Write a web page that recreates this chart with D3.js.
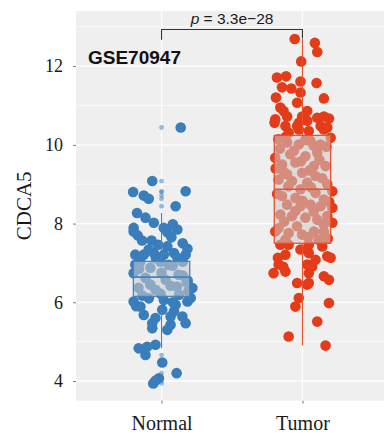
<!DOCTYPE html>
<html>
<head>
<meta charset="utf-8">
<script src="https://cdn.jsdelivr.net/npm/d3@7"></script>
<style>
  html, body { margin: 0; padding: 0; background: #ffffff; }
  svg { display: block; }
</style>
</head>
<body>
<div id="chart"></div>
<script>
// CDCA5 expression, GSE70947: normal vs tumor samples
const categories = ["Normal", "Tumor"];
const datasetLabel = "GSE70947";
const pValueText = "3.3e\u221228";
const yTicks = [4, 6, 8, 10, 12];
const yMinorTicks = [5, 7, 9, 11, 13];

// expression values and horizontal jitter (in category units) per sample
const normalValues = [10.44, 9.08, 8.80, 8.71, 8.63, 8.82, 8.44, 8.27, 8.15, 8.02,
  7.89, 7.80, 7.89, 7.78, 7.85, 7.57, 7.57, 7.46, 7.42, 7.36,
  7.21, 7.21, 7.25, 7.21, 7.25, 7.21, 7.34, 7.13, 6.74, 6.36,
  6.11, 6.02, 6.02, 5.89, 5.68, 5.47, 5.34, 5.81, 6.06, 5.30,
  5.43, 5.77, 5.94, 5.64, 5.47, 6.19, 4.83, 4.87, 4.92, 4.66,
  4.47, 4.20, 4.07, 4.01, 3.94, 6.96, 7.03, 6.88, 7.03, 6.93,
  7.03, 6.62, 6.57, 6.70, 6.37, 6.32, 6.42, 6.50, 6.17, 6.22,
  6.55, 5.60, 5.64, 6.85, 6.75, 6.68, 6.45, 6.40, 6.28, 6.95,
  7.12, 7.65, 7.70, 7.50, 7.98, 6.10, 6.00, 5.90];
const normalJitter = [0.136, -0.066, -0.202, -0.126, -0.091, 0.171, 0.100, -0.174, -0.114, -0.055,
  -0.198, -0.198, 0.016, 0.041, 0.112, -0.138, -0.071, -0.024, 0.041, 0.184,
  -0.186, -0.126, -0.055, 0.016, 0.088, 0.171, -0.091, 0.112, -0.198, 0.219,
  0.207, 0.184, -0.198, -0.150, -0.126, -0.066, -0.066, 0.005, 0.016, 0.041,
  0.064, 0.088, 0.100, 0.148, 0.171, 0.124, -0.162, -0.102, -0.043, -0.114,
  0.005, 0.107, -0.019, -0.043, -0.059, -0.186, -0.150, -0.079, -0.007, 0.079,
  0.150, -0.114, 0.029, 0.121, -0.164, -0.043, 0.064, 0.179, -0.136, -0.007,
  0.186, -0.043, 0.064, -0.160, 0.000, 0.150, -0.080, 0.110, 0.190, 0.050,
  -0.040, 0.070, -0.170, 0.150, 0.080, -0.090, 0.080, -0.180];

const tumorValues = [12.69, 12.59, 12.36, 12.12, 11.71, 11.74, 11.46, 11.43, 11.61, 11.33,
  11.57, 11.20, 11.07, 11.18, 10.95, 10.86, 10.86, 10.65, 10.72, 10.72,
  10.56, 10.69, 10.72, 10.67, 10.56, 10.48, 10.61, 10.48, 10.44, 10.35,
  10.31, 10.39, 10.39, 10.48, 10.18, 10.06, 10.01, 10.10, 9.80, 9.76,
  9.71, 9.67, 9.50, 9.55, 9.46, 9.46, 9.25, 9.29, 9.21, 9.08,
  9.12, 9.04, 9.00, 8.82, 8.70, 8.65, 8.78, 8.61, 8.48, 8.44,
  8.48, 8.44, 8.40, 8.23, 8.19, 8.15, 8.10, 8.19, 8.02, 7.80,
  7.76, 7.72, 7.80, 7.80, 7.93, 10.14, 10.01, 8.87, 7.59, 7.59,
  7.46, 7.46, 7.46, 7.42, 7.21, 7.25, 7.17, 7.08, 6.96, 6.74,
  6.78, 6.96, 6.74, 6.66, 6.57, 6.49, 6.49, 6.11, 5.89, 5.98,
  5.51, 5.13, 4.90, 6.91, 6.90, 6.45, 7.13, 7.13, 7.34, 10.20,
  10.12, 9.95, 9.90, 9.85, 9.62, 9.58, 9.40, 9.35, 9.15, 8.95,
  8.92, 8.75, 8.58, 8.55, 8.32, 8.30, 8.05, 7.98, 7.88, 7.65,
  7.62, 9.98, 9.30];
const tumorJitter = [-0.055, 0.088, 0.105, -0.009, -0.181, -0.116, -0.145, -0.079, -0.014, -0.014,
  0.100, -0.188, -0.038, 0.152, -0.157, -0.134, 0.034, -0.193, -0.109, -0.002,
  -0.026, 0.105, 0.152, 0.188, -0.198, -0.121, 0.034, 0.129, 0.176, 0.045,
  -0.098, -0.026, 0.152, -0.038, 0.200, -0.109, -0.026, 0.057, 0.105, -0.086,
  0.021, -0.193, -0.145, -0.050, 0.081, 0.164, -0.109, -0.002, 0.093, -0.074,
  -0.169, 0.034, 0.176, 0.212, -0.145, -0.050, 0.093, 0.152, -0.109, -0.014,
  0.057, 0.129, 0.212, -0.157, -0.074, 0.021, 0.105, 0.176, 0.212, -0.193,
  -0.098, -0.002, 0.081, 0.152, -0.038, -0.171, 0.129, -0.014, -0.121, 0.114,
  -0.157, -0.098, 0.045, 0.141, -0.121, 0.045, 0.176, 0.093, -0.169, -0.205,
  -0.121, 0.034, 0.045, 0.152, 0.188, -0.038, 0.045, -0.026, -0.050, 0.188,
  0.105, -0.098, 0.164, 0.069, -0.136, 0.034, 0.200, -0.174, -0.014, -0.120,
  0.020, 0.170, -0.160, -0.060, 0.120, -0.010, -0.190, 0.050, 0.140, -0.100,
  0.060, -0.180, 0.000, 0.190, -0.050, 0.080, -0.130, 0.150, -0.170, 0.040,
  0.180, 0.080, -0.130];

// box summaries (lower hinge, median, upper hinge)
const lowerHinges = [6.15, 7.50];
const medians = [6.64, 8.87];
const upperHinges = [7.04, 10.24];

const colors = ["#3a7dbb", "#e43b19"];
const boxLineColors = ["#4683bf", "#e8502e"];

const W = 384, H = 438;
const panel = { left: 76, top: 11, right: 384, bottom: 400.7 };

const svg = d3.select("#chart").append("svg")
  .attr("width", W).attr("height", H);

const x = d3.scaleLinear().domain([0.4, 2.6]).range([77, 387]);
const y = d3.scaleLinear().domain([3.5, 13.4]).range([panel.bottom, panel.top]);

svg.append("defs").append("clipPath").attr("id", "panel-clip")
  .append("rect")
  .attr("x", panel.left).attr("y", panel.top)
  .attr("width", panel.right - panel.left).attr("height", panel.bottom - panel.top);

// panel background and grid
svg.append("rect")
  .attr("x", panel.left).attr("y", panel.top)
  .attr("width", panel.right - panel.left).attr("height", panel.bottom - panel.top)
  .attr("fill", "#efefef");

const grid = svg.append("g").attr("clip-path", "url(#panel-clip)");
grid.selectAll("line.minor").data(yMinorTicks).join("line")
  .attr("class", "minor")
  .attr("x1", panel.left).attr("x2", panel.right)
  .attr("y1", d => y(d)).attr("y2", d => y(d))
  .attr("stroke", "#ffffff").attr("stroke-width", 0.7);
grid.selectAll("line.major").data(yTicks).join("line")
  .attr("class", "major")
  .attr("x1", panel.left).attr("x2", panel.right)
  .attr("y1", d => y(d)).attr("y2", d => y(d))
  .attr("stroke", "#ffffff").attr("stroke-width", 1.3);
grid.selectAll("line.vmajor").data(categories).join("line")
  .attr("class", "vmajor")
  .attr("x1", (d, i) => x(i + 1)).attr("x2", (d, i) => x(i + 1))
  .attr("y1", panel.top).attr("y2", panel.bottom)
  .attr("stroke", "#ffffff").attr("stroke-width", 1.3);

// jittered sample points
const groups = [
  { values: normalValues, jitter: normalJitter },
  { values: tumorValues, jitter: tumorJitter }
];

const plot = svg.append("g").attr("clip-path", "url(#panel-clip)");

groups.forEach((g, i) => {
  plot.append("g").selectAll("circle").data(g.values).join("circle")
    .attr("cx", (d, j) => x(i + 1 + g.jitter[j]))
    .attr("cy", d => y(d))
    .attr("r", 5.3)
    .attr("fill", colors[i]);
});

// box plots drawn over the points
const halfBox = 0.2;
groups.forEach((g, i) => {
  const q1 = lowerHinges[i], q3 = upperHinges[i], med = medians[i];
  const iqr = q3 - q1;
  const loFence = q1 - 1.5 * iqr, hiFence = q3 + 1.5 * iqr;
  const inside = g.values.filter(v => v >= loFence && v <= hiFence);
  const whiskerLo = d3.min(inside), whiskerHi = d3.max(inside);
  const outliers = g.values.filter(v => v < loFence || v > hiFence);
  const cx = x(i + 1);
  const bg = plot.append("g");

  bg.append("line")
    .attr("x1", cx).attr("x2", cx)
    .attr("y1", y(q3)).attr("y2", y(whiskerHi))
    .attr("stroke", boxLineColors[i]).attr("stroke-width", 1.1);
  bg.append("line")
    .attr("x1", cx).attr("x2", cx)
    .attr("y1", y(q1)).attr("y2", y(whiskerLo))
    .attr("stroke", boxLineColors[i]).attr("stroke-width", 1.1);

  bg.append("rect")
    .attr("x", x(i + 1 - halfBox)).attr("y", y(q3))
    .attr("width", x(i + 1 + halfBox) - x(i + 1 - halfBox))
    .attr("height", y(q1) - y(q3))
    .attr("fill", "#cccccc").attr("fill-opacity", 0.56)
    .attr("stroke", boxLineColors[i]).attr("stroke-width", 1.3);
  bg.append("line")
    .attr("x1", x(i + 1 - halfBox)).attr("x2", x(i + 1 + halfBox))
    .attr("y1", y(med)).attr("y2", y(med))
    .attr("stroke", boxLineColors[i]).attr("stroke-width", 1.6);

  bg.selectAll("circle.outlier").data(outliers).join("circle")
    .attr("class", "outlier")
    .attr("cx", cx).attr("cy", d => y(d))
    .attr("r", 2.4)
    .attr("fill", colors[i]).attr("fill-opacity", 0.5);
});

// axes
const serif = "'Liberation Serif', 'DejaVu Serif', serif";
const sans = "'Liberation Sans', Arial, sans-serif";

const yAxis = svg.append("g")
  .attr("transform", `translate(${panel.left},0)`)
  .call(d3.axisLeft(y).tickValues(yTicks).tickSize(3).tickPadding(10).tickFormat(d3.format("d")));
yAxis.select(".domain").remove();
yAxis.selectAll(".tick line").attr("stroke", "#555").attr("stroke-width", 0.8);
yAxis.selectAll(".tick text")
  .attr("font-family", serif).attr("font-size", 18).attr("fill", "#1a1a1a");

const xAxis = svg.append("g")
  .attr("transform", `translate(0,${panel.bottom})`)
  .call(d3.axisBottom(x).tickValues([1, 2]).tickSize(3).tickPadding(12)
    .tickFormat((d, i) => categories[i]));
xAxis.select(".domain").remove();
xAxis.selectAll(".tick line").attr("stroke", "#555").attr("stroke-width", 0.8);
xAxis.selectAll(".tick text")
  .attr("font-family", serif).attr("font-size", 20).attr("fill", "#1a1a1a");

svg.append("text")
  .attr("transform", `translate(31,${(panel.top + panel.bottom) / 2}) rotate(-90)`)
  .attr("text-anchor", "middle")
  .attr("font-family", serif).attr("font-size", 21).attr("fill", "#1a1a1a")
  .text("CDCA5");

// significance bracket
const bracketY = 12.93, tipLeft = 12.67, tipRight = 12.70;
svg.append("path")
  .attr("d", `M${x(1)},${y(tipLeft)} V${y(bracketY)} H${x(2)} V${y(tipRight)}`)
  .attr("fill", "none").attr("stroke", "#333").attr("stroke-width", 1.1);

const pText = svg.append("text")
  .attr("x", (x(1) + x(2)) / 2).attr("y", y(bracketY) - 5.5)
  .attr("text-anchor", "middle")
  .attr("font-family", sans).attr("font-size", 15.5).attr("fill", "#1a1a1a");
pText.append("tspan").attr("font-style", "italic").text("p");
pText.append("tspan").text(" = " + pValueText);

svg.append("text")
  .attr("x", 88).attr("y", 63.5)
  .attr("font-family", sans).attr("font-size", 19).attr("font-weight", "bold")
  .attr("fill", "#111")
  .text(datasetLabel);
</script>
</body>
</html>
